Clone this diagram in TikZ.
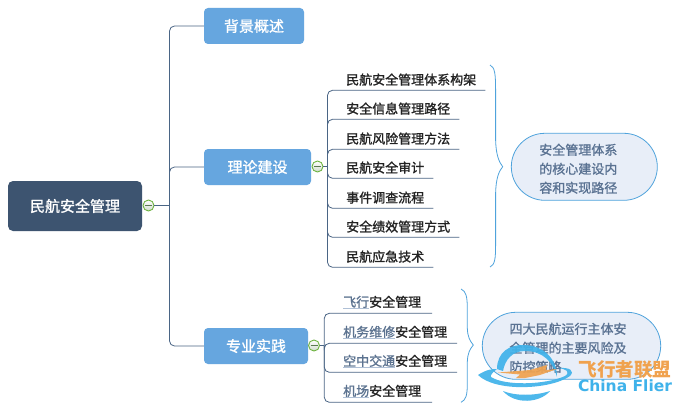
\documentclass[tikz,border=0pt]{standalone}
\usepackage{fontspec}
\setmainfont{Noto Sans CJK SC}
\newfontfamily\semib[FakeBold=1.2]{Noto Sans CJK SC}
\newfontfamily\latinfont{DejaVu Sans}
\usetikzlibrary{positioning}
\definecolor{rootc}{HTML}{3D5470}
\definecolor{mainc}{HTML}{66A6DF}
\definecolor{linec}{HTML}{4A6585}
\definecolor{bubc}{HTML}{E8EEF8}
\definecolor{bracec}{HTML}{4FA3DC}
\definecolor{subtxt}{HTML}{5A7292}
\definecolor{leaftxt}{HTML}{222222}
\definecolor{lnkc}{HTML}{5C7390}
\definecolor{lnkb}{HTML}{AFC0D6}
\definecolor{wmo}{HTML}{F0A24E}
\definecolor{wmb}{HTML}{3FB2EA}
\definecolor{tgld}{HTML}{6DB33F}
\definecolor{tglb}{HTML}{CFDCCB}
\definecolor{tglm}{HTML}{5A7A50}
\newcommand{\lnk}[1]{\setbox0\hbox{#1}\rlap{\textcolor{lnkb}{\rule[-2.6pt]{\wd0}{1.1pt}}}\textcolor{lnkc}{#1}}
\newcommand{\tstrut}{\rule{0pt}{15pt}}
\tikzset{
  rootbox/.style={fill=rootc,rounded corners=5pt,text=white,font=\fontsize{15}{18}\selectfont\semib,minimum width=134pt,minimum height=50pt,inner sep=0pt},
  mainbox/.style={fill=mainc,rounded corners=4pt,text=white,font=\fontsize{15}{18}\selectfont\semib,minimum height=36pt,inner sep=0pt},
  leaf/.style={anchor=south west,inner xsep=13pt,inner ysep=0pt,minimum height=21pt,align=left,text=leaftxt,font=\fontsize{13}{16}\selectfont\semib},
  conn/.style={draw=linec,line width=0.8pt,rounded corners=5pt},
  bubble/.style={draw=bracec,fill=bubc,line width=0.8pt,rounded corners=33.5pt,minimum height=67pt,inner sep=0pt,align=left,text=subtxt,font=\fontsize{13}{19}\selectfont\semib},
  bracel/.style={draw=bracec,line width=0.8pt},
  toggle/.style={circle,draw=tgld,line width=0.9pt,minimum size=11pt,inner sep=0pt,top color=white,bottom color=tglb,
    path picture={\draw[line width=0.9pt,draw=tglm] ([xshift=-3.5pt]path picture bounding box.center) -- ([xshift=3.5pt]path picture bounding box.center);}},
  wmark/.style={opacity=0.92}
}
\begin{document}
\begin{tikzpicture}[x=1pt,y=-1pt]
\useasboundingbox[fill=white] (0,0) rectangle (679,412);
% main nodes
\node[rootbox] (root) at (75,206) {民航安全管理};
\node[mainbox,minimum width=100pt] (bg) at (254,26) {背景概述};
\node[mainbox,minimum width=107pt] (th) at (257.5,167) {理论建设};
\node[mainbox,minimum width=104pt] (pr) at (256,346) {专业实践};
\node[toggle] (t0) at (148.5,205.5) {};
\node[toggle] (t1) at (317.5,166.5) {};
\node[toggle] (t2) at (314,345.5) {};
\coordinate (tr) at (169.5,205.5);
\coordinate (h1) at (327.5,166.5);
\coordinate (h2) at (324.3,345.5);
% leaves, theory
\node[leaf,text width=126pt] (a1) at (333,90.3) {民航安全管理体系构架};
\node[leaf,text width=100pt] (a2) at (333,119.3) {安全信息管理路径};
\node[leaf,text width=100pt] (a3) at (333,149.3) {民航风险管理方法};
\node[leaf,text width=74pt] (a4) at (333,178.3) {民航安全审计};
\node[leaf,text width=74pt] (a5) at (333,208.3) {事件调查流程};
\node[leaf,text width=100pt] (a6) at (333,237.3) {安全绩效管理方式};
\node[leaf,text width=74pt] (a7) at (333,267.3) {民航应急技术};
% leaves, practice
\node[leaf,text width=75.7pt] (c1) at (330,313.3) {\lnk{飞行}安全管理};
\node[leaf,text width=100.7pt] (c2) at (330,343.3) {\lnk{机务维修}安全管理};
\node[leaf,text width=100.7pt] (c3) at (330,372.3) {\lnk{空中交通}安全管理};
\node[leaf,text width=75.7pt] (c4) at (330,402.3) {\lnk{机场}安全管理};
% connectors
\draw[conn] (t0.east) -- (tr);
\draw[conn] (bg.west) -- (tr |- bg.west) -- (tr);
\draw[conn] (th.west) -- (tr |- th.west) -- (tr);
\draw[conn] (pr.west) -- (tr |- pr.west) -- (tr);
\draw[conn] (t1.east) -- (h1);
\draw[conn] (t2.east) -- (h2);
\foreach \n in {a1,a2,a3,a4,a5,a6,a7}
  \draw[conn] (\n.south east) -- (h1 |- \n.south) -- (h1);
\foreach \n in {c1,c2,c3,c4}
  \draw[conn] (\n.south east) -- (h2 |- \n.south) -- (h2);
% bubbles
\node[bubble,minimum width=146pt,text width=90pt] (b1) at (584.3,166.8) {\tstrut 安全管理体系\\的核心建设内\\容和实现路径};
\node[bubble,minimum width=178.4pt,text width=124pt] (b2) at (571.5,345.8) {\tstrut 四大民航运行主体安\\全管理的主要风险及\\防控策略};
% braces
\draw[bracel] (490,65) .. controls (495,67) and (495.6,75) .. (495.6,90) -- (495.6,140) .. controls (496,155) and (499,162) .. (502.7,166.7) .. controls (499,171) and (496,178) .. (495.6,193) -- (495.6,245) .. controls (495.6,258) and (495,265) .. (490,267);
\draw[bracel] (461,289) .. controls (466,291) and (467.3,297) .. (467.3,308) -- (467.3,328) .. controls (467.6,337) and (470,341) .. (473.3,345) .. controls (470,349) and (467.6,353) .. (467.3,362) -- (467.3,384) .. controls (467.3,395) and (466,400) .. (461,402.3);
% watermark
\fill[wmb,wmark] (497,369) .. controls (497,352) and (510,344) .. (525,345) .. controls (545,346) and (557,360) .. (557,377) .. controls (553,362) and (543,351) .. (525,351) .. controls (512,351) and (505,360) .. (503,371) -- cycle;
\fill[wmb,wmark] (478,375) .. controls (487,369) and (493,369) .. (497,369) .. controls (493,372) and (490,375) .. (491,377) .. controls (505,386) and (545,385) .. (565,376) .. controls (571,372) and (566,369) .. (558,368) .. controls (570,367) and (575,371) .. (570,376) .. controls (550,390) and (495,392) .. (478,375) -- cycle;
\fill[wmb,wmark] (503,391) .. controls (515,396) and (535,396) .. (550,391) .. controls (540,403) and (515,405) .. (503,391) -- cycle;
\fill[wmo,wmark] (498,372.5) -- (530,370) -- (547,365) -- (546,370) -- (557,369) -- (540,375) -- (525,378) -- (516,378) -- (520,374.5) -- cycle;
\node[text=wmo,font=\fontsize{18.6}{20}\selectfont\bfseries,inner sep=0pt] (wm1) at (625,369.5) {飞行者联盟};
\node[text=wmb,font=\latinfont\fontsize{15.5}{18}\selectfont\bfseries,inner sep=0pt] (wm2) at (625,386) {China Flier};
\end{tikzpicture}
\end{document}
